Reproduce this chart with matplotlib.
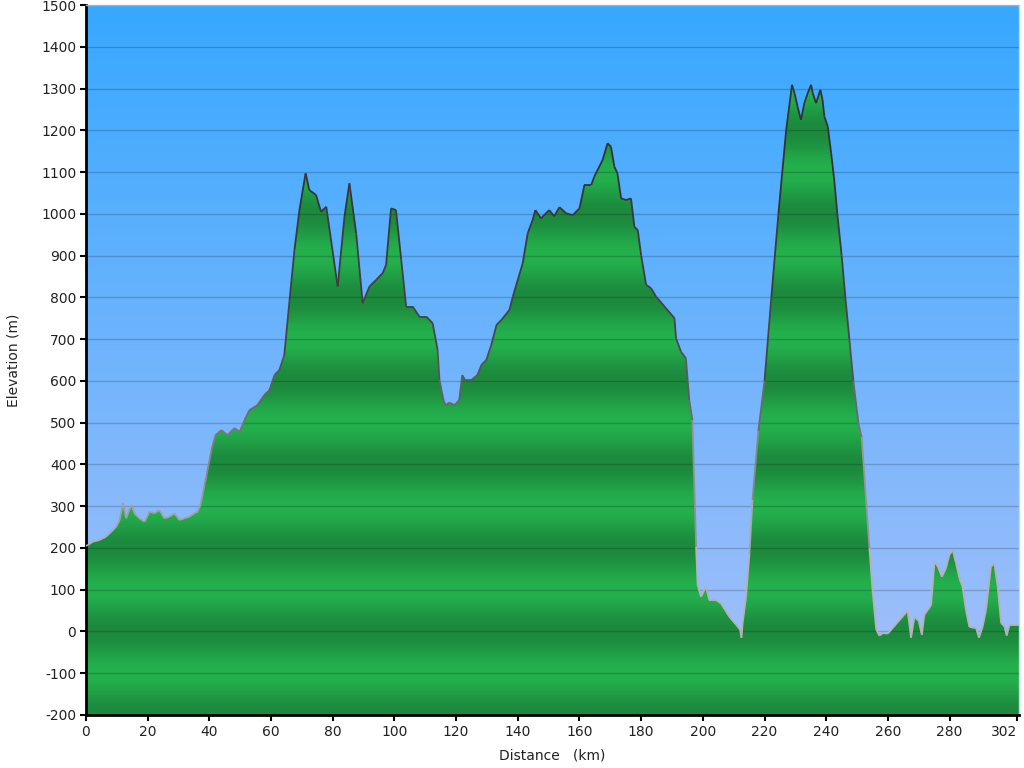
import numpy as np
import matplotlib
matplotlib.use("Agg")
import matplotlib.pyplot as plt
from matplotlib.patches import Polygon
from matplotlib.collections import LineCollection

# ---- data ----
distance_km = [0, 0.6, 2.2, 4.4, 6.5, 8.2, 9.8, 10.9, 12.0, 13.0, 14.7, 15.7, 17.3, 19.0,
               20.6, 22.2, 23.8, 25.4, 27.1, 28.7, 30.3, 31.9, 33.5, 35.2, 36.2, 37.3,
               38.4, 39.1, 40.7, 42.0, 43.9, 45.9, 48.1, 49.8, 51.4, 53.0, 55.6, 57.8,
               59.5, 61.1, 62.7, 64.3, 66.0, 67.6, 69.2, 71.2, 72.4, 74.6, 76.2, 77.9,
               81.6, 83.8, 85.4, 87.6, 89.7, 91.9, 94.1, 96.2, 97.3, 98.9, 100.5, 102.2,
               103.8, 105.9, 108.1, 110.3, 112.4, 114.0, 114.6, 115.9, 116.6, 117.8,
               119.5, 121.0, 122.0, 122.9, 124.9, 126.9, 128.2, 129.8, 131.4, 133.1,
               134.7, 137.3, 138.4, 141.6, 143.2, 144.8, 145.7, 147.5, 150.2, 151.8,
               153.5, 155.7, 157.8, 160.0, 161.6, 163.8, 164.8, 167.5, 169.1, 170.2,
               171.3, 172.3, 173.5, 175.1, 176.7, 177.8, 178.9, 180.0, 181.6, 183.2,
               184.8, 190.8, 191.3, 192.9, 194.5, 195.6, 196.6, 197.8, 198.3, 199.4,
               201.0, 202.1, 204.3, 205.9, 208.6, 210.8, 212.1, 212.5, 212.9, 214.0,
               215.1, 216.1, 218.0, 220.0, 222.2, 224.5, 227.0, 228.9, 229.7, 230.7,
               231.8, 232.9, 234.0, 235.1, 235.6, 236.7, 238.1, 238.8, 239.4, 240.5,
               241.6, 242.6, 243.6, 245.0, 246.2, 247.5, 248.8, 250.4, 251.0, 251.5,
               254.0, 255.0, 256.2, 257.2,
               258.4, 260.0, 266.4, 267.5, 268.6, 270.0, 271.0, 271.8, 274.0, 275.1,
               276.2, 277.5, 278.8, 279.9, 281.0, 282.1, 283.2, 284.2, 285.3, 286.4,
               288.6, 289.5, 290.7, 291.8, 293.4, 294.5, 295.6, 296.7, 297.8, 298.5,
               299.4, 301.0, 302.5]
elevation_m = [205, 207, 215, 219, 227, 239, 251, 267, 307, 271, 303, 283, 271, 263,
               287, 283, 291, 271, 275, 283, 267, 271, 275, 283, 287, 307,
               350, 374, 435, 470, 482, 470, 487, 478, 506, 530, 542, 566,
               578, 614, 626, 662, 794, 914, 1009, 1097, 1057, 1045, 1005, 1017,
               826, 993, 1073, 953, 786, 826, 842, 858, 878, 1013, 1009, 890,
               778, 778, 754, 754, 738, 674, 602, 554, 542, 548,
               542, 554, 614, 602, 602, 614, 638, 650, 686, 734,
               746, 770, 802, 882, 953, 985, 1009, 989, 1009, 994,
               1016, 1001, 997, 1013, 1069, 1069, 1089, 1129, 1169, 1161,
               1113, 1097, 1037, 1033, 1037, 969, 961, 900, 830, 822,
               802, 750, 702, 670, 654, 554, 506, 203, 111, 83,
               107, 75, 75, 67, 35, 16, 4, -15, 20, 83,
               187, 315, 480, 600, 800, 1000, 1200, 1309, 1289, 1257,
               1225, 1265, 1289, 1309, 1290, 1265, 1297, 1273, 1233, 1209,
               1145, 1081, 1000, 900, 800, 700, 600, 500, 480, 465,
               200, 100, 5, -10,
               -4, -5, 50, -15, 35, 25, -8, 40, 63, 167,
               155, 131, 151, 183, 195, 163, 127, 107, 51, 11,
               8, -15, 11, 51, 155, 163, 107, 20, 12, -10,
               15, 15, 15]

x_ticks = [0, 20, 40, 60, 80, 100, 120, 140, 160, 180, 200, 220, 240, 260, 280, 302]
y_ticks = list(range(-200, 1501, 100))
x_label = "Distance   (km)"
y_label = "Elevation (m)"

x = np.array(distance_km, dtype=float)
y = np.array(elevation_m, dtype=float)
xmin, xmax = 0, 302.5
ymin, ymax = -200, 1500

fig = plt.figure(figsize=(10.24, 7.68), dpi=100)
ax = fig.add_axes([86 / 1024, 1 - 715 / 768, (1019 - 86) / 1024, (715 - 5) / 768])
ax.set_xlim(xmin, xmax)
ax.set_ylim(ymin, ymax)

# background vertical gradient
top = np.array([54, 168, 255]) / 255.0
bot = np.array([171, 193, 250]) / 255.0
n = 512
t = np.linspace(0, 1, n)[:, None]
bg = bot + (top - bot) * t
bg = np.repeat(bg[:, None, :], 2, axis=1)
ax.imshow(bg, extent=[xmin, xmax, ymin, ymax], origin='lower', aspect='auto',
          zorder=0, interpolation='bilinear')

# banded green fill
dark = np.array([28, 137, 61]) / 255.0
light = np.array([36, 177, 77]) / 255.0
yy = np.linspace(ymin, ymax, 1701)
tt = (1 - np.cos(np.pi * yy / 100.0)) / 2.0
band = dark + (light - dark) * tt[:, None]
band = np.repeat(band[:, None, :], 2, axis=1)
im = ax.imshow(band, extent=[xmin, xmax, ymin, ymax], origin='lower', aspect='auto',
               zorder=1, interpolation='bilinear')
verts = [(x[0], ymin)] + list(zip(x, y)) + [(x[-1], ymin)]
patch = Polygon(verts, closed=True, facecolor='none', edgecolor='none',
                transform=ax.transData)
ax.add_patch(patch)
im.set_clip_path(patch)

# grid lines
for v in y_ticks:
    ax.axhline(v, color='black', alpha=0.18, lw=1.0, zorder=3)

# outline coloured by elevation
pts = np.column_stack([x, y])
segs = np.stack([pts[:-1], pts[1:]], axis=1)
mid = (y[:-1] + y[1:]) / 2
g = np.interp(mid, [200, 700, 1100], [0.70, 0.28, 0.20])
cols = [(gv, gv, gv, 1.0) for gv in g]
lc = LineCollection(segs, colors=cols, linewidths=1.3, zorder=4)
ax.add_collection(lc)

# axes styling
ax.set_xticks(x_ticks)
ax.set_xticklabels([str(v) for v in x_ticks])
ax.set_yticks(y_ticks)
ax.set_yticklabels([str(v) for v in y_ticks])
ax.tick_params(axis='both', direction='out', length=4, width=1.5, colors='black',
               labelcolor='#222222', labelsize=10, pad=3)
for lbl in ax.get_xticklabels()[-1:]:
    lbl.set_horizontalalignment('right')
for s in ['left', 'bottom']:
    ax.spines[s].set_linewidth(2)
    ax.spines[s].set_color('black')
ax.spines['top'].set_color('#c8d6e6')
ax.spines['top'].set_linewidth(1)
ax.spines['right'].set_color('#b8e0e8')
ax.spines['right'].set_linewidth(1)

ax.set_xlabel(x_label, fontsize=10, color='#222222', labelpad=7)
ax.set_ylabel(y_label, fontsize=10, color='#222222', labelpad=15)

fig.savefig('out.png', dpi=100)
